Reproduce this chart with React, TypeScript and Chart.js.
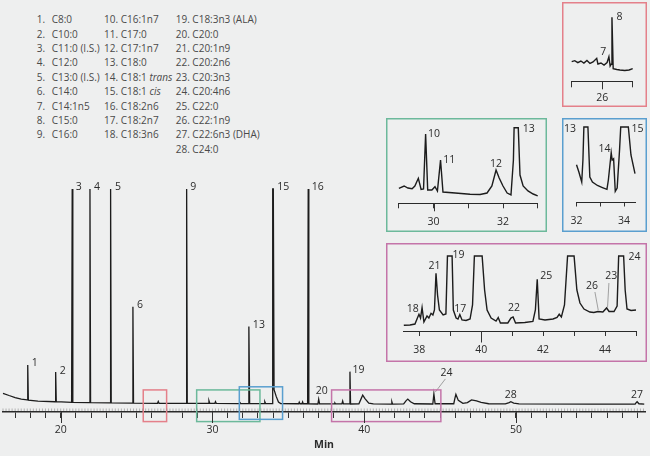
import React, { useEffect, useRef } from 'react';
import { Chart, registerables } from 'chart.js';

Chart.register(...registerables);

const FONT_FAMILY = '"Open Sans", "Noto Sans", sans-serif';
const BG = '#eeefef';
const TRACE = '#1c1c1c';
const TEXT = '#2b2b2b';

// ---------------- legend ----------------
const compoundNumbers = [1, 2, 3, 4, 5, 6, 7, 8, 9, 10, 11, 12, 13, 14, 15, 16, 17, 18, 19, 20, 21, 22, 23, 24, 25, 26, 27, 28];
const compoundNames = [
  'C8:0', 'C10:0', 'C11:0 (I.S.)', 'C12:0', 'C13:0 (I.S.)', 'C14:0', 'C14:1n5', 'C15:0', 'C16:0',
  'C16:1n7', 'C17:0', 'C17:1n7', 'C18:0', 'C18:1 trans', 'C18:1 cis', 'C18:2n6', 'C18:2n7', 'C18:3n6',
  'C18:3n3 (ALA)', 'C20:0', 'C20:1n9', 'C20:2n6', 'C20:3n3', 'C20:4n6', 'C22:0', 'C22:1n9', 'C22:6n3 (DHA)', 'C24:0',
];
const italicWords = ['trans', 'cis'];

// ---------------- main chromatogram ----------------
const mainTime = [
  16.2, 16.6, 17.0, 17.4, 17.79, 17.83, 17.87, 18.5, 19.63, 19.67, 19.71, 20.72, 20.76, 20.80,
  21.89, 21.93, 21.97, 23.25, 23.29, 23.33, 24.72, 24.76, 24.80, 26.38, 26.43, 26.48, 28.26, 28.30,
  28.34, 29.72, 29.77, 29.82, 30.16, 30.20, 30.25, 31.75, 31.80, 31.86, 32.36, 32.40, 32.45, 33.40,
  33.45, 33.50, 33.93, 33.97, 34.01, 34.06, 34.20, 34.35, 34.50, 35.68, 35.72, 35.77, 35.90, 35.94,
  35.98, 36.27, 36.31, 36.35, 36.95, 37.00, 37.06, 38.03, 38.07, 38.11, 38.53, 38.58, 38.63, 39.02,
  39.06, 39.10, 39.65, 39.80, 39.90, 40.05, 40.30, 40.60, 41.77, 41.82, 41.87, 42.60, 42.75, 42.87,
  43.05, 43.30, 44.52, 44.59, 44.67, 45.90, 45.97, 46.04, 46.20, 46.50, 46.80, 47.07, 47.40, 47.70,
  48.20, 49.30, 49.55, 49.66, 49.85, 50.20, 55.00, 57.85, 57.93, 57.98, 58.10, 58.45,
];
const mainSignal = [
  8.4, 7.4, 6.5, 5.8, 5.4, 21.1, 5.3, 4.9, 4.6, 17.9, 4.6, 4.3, 100, 4.3,
  4.2, 100, 4.2, 4.1, 100, 4.1, 4.0, 47.2, 4.0, 3.9, 4.7, 3.9, 3.9, 100,
  3.9, 3.9, 5.0, 3.9, 3.9, 4.6, 3.9, 3.8, 4.3, 3.8, 3.8, 38.3, 3.9, 3.8,
  4.6, 3.8, 3.8, 100, 100, 10.0, 7.0, 4.5, 3.8, 3.7, 4.4, 3.7, 3.7, 4.5,
  3.7, 3.7, 100, 3.7, 3.6, 5.7, 3.6, 3.6, 4.0, 3.6, 3.6, 4.9, 3.6, 3.6,
  18.1, 3.6, 3.7, 6.0, 7.6, 6.0, 4.0, 3.6, 3.5, 4.6, 3.5, 3.6, 5.0, 5.8,
  4.6, 3.7, 3.6, 8.1, 3.7, 3.7, 6.0, 7.9, 5.2, 3.9, 4.2, 5.4, 5.0, 4.3,
  3.7, 3.6, 4.2, 4.6, 4.0, 3.6, 3.5, 3.5, 4.3, 4.6, 3.7, 3.5,
];
const mainTicks = [17, 18, 19, 20, 21, 22, 23, 24, 25, 26, 27, 28, 29, 30, 31, 32, 33, 34, 35, 36, 37, 38, 39, 40, 41, 42, 43, 44, 45, 46, 47, 48, 49, 50, 51, 52, 53, 54, 55, 56, 57, 58];
const mainTickLabels = [20, 30, 40, 50];
const mainPeakText = ['1', '2', '3', '4', '5', '6', '9', '13', '15', '16', '20', '19', '24', '28', '27'];
const mainPeakTime = [17.83, 19.67, 20.76, 21.93, 23.29, 24.76, 28.30, 32.40, 34.01, 36.31, 37.0, 39.06, 44.59, 49.66, 57.98];
const mainPeakSignal = [21.1, 17.9, 100, 100, 100, 47.2, 100, 38.3, 100, 100, 5.7, 18.1, 8.1, 4.6, 4.6];
// zoom windows marked on the main trace
const zoomStart = [25.44, 28.96, 31.77, 37.85];
const zoomEnd = [26.98, 33.13, 34.62, 45.05];
const zoomLow = [-4.3, -4.3, -3.3, -4.3];
const zoomHigh = [9.9, 9.9, 11.3, 9.9];

// ---------------- inset: 25.5 - 26.5 min ----------------
const redTime = [25.5, 25.55, 25.6, 25.65, 25.7, 25.75, 25.8, 25.85, 25.91, 25.93, 25.98, 26.03, 26.08, 26.11, 26.13, 26.145, 26.16, 26.18, 26.24, 26.29, 26.37, 26.44, 26.5];
const redSignal = [31.1, 32.6, 29.5, 32.1, 29.0, 32.9, 28.3, 30.6, 36.3, 27.5, 29.0, 25.9, 29.8, 38.8, 24.4, 27.0, 100, 20.2, 18.9, 18.2, 17.4, 18.2, 20.2];
const redTicks = [25.5, 26, 26.5];
const redTickLabels = [26];
const redPeakText = ['7', '8'];
const redPeakTime = [26.11, 26.16];
const redPeakSignal = [38.8, 100];

// ---------------- inset: 29 - 33 min ----------------
const greenTime = [29.0, 29.15, 29.26, 29.38, 29.46, 29.56, 29.64, 29.71, 29.77, 29.83, 29.95, 30.04, 30.11, 30.20, 30.27, 30.62, 31.05, 31.34, 31.54, 31.68, 31.80, 31.89, 32.0, 32.12, 32.23, 32.30, 32.32, 32.44, 32.49, 32.58, 32.72, 32.87, 33.0];
const greenSignal = [19.8, 22.9, 20.2, 19.3, 22.9, 33.1, 18.3, 18.9, 91.7, 17.6, 17.6, 22.0, 16.3, 57.3, 14.9, 13.6, 11.9, 11.6, 13.6, 22.9, 44.0, 33.5, 22.9, 13.6, 11.0, 57.3, 100, 100, 37.4, 22.9, 16.3, 12.3, 9.7];
const greenTicks = [29, 30, 31, 32, 33];
const greenTickLabels = [30, 32];
const greenPeakText = ['10', '11', '12', '13'];
const greenPeakTime = [29.77, 30.20, 31.80, 32.44];
const greenPeakSignal = [91.7, 57.3, 44.0, 100];

// ---------------- inset: 32 - 34.5 min ----------------
const blueTime = [32.0, 32.10, 32.22, 32.27, 32.31, 32.48, 32.56, 32.67, 32.88, 33.09, 33.28, 33.34, 33.46, 33.50, 33.56, 33.63, 33.71, 33.81, 33.86, 34.18, 34.29, 34.46, 34.53, 34.58];
const blueSignal = [49.7, 40.0, 26.7, 56.0, 100, 100, 33.3, 26.7, 22.0, 19.3, 16.9, 29.3, 65.7, 56.0, 57.7, 14.3, 18.7, 69.3, 100, 100, 62.7, 37.7, 48.9, 36.0];
const blueTicks = [32, 33, 34];
const blueTickLabels = [32, 34];
const blueAxisEnd = 34.46;
const bluePeakText = ['13', '14', '15'];
const bluePeakTime = [32.31, 33.46, 34.18];
const bluePeakSignal = [100, 65.7, 100];

// ---------------- inset: 37.5 - 45 min ----------------
const pinkTime = [
  37.5, 37.70, 37.86, 37.94, 37.99, 38.04, 38.09, 38.15, 38.25, 38.31, 38.38, 38.44, 38.49, 38.54, 38.59,
  38.65, 38.77, 38.86, 38.91, 39.06, 39.10, 39.19, 39.25, 39.31, 39.38, 39.51, 39.64, 39.72, 39.78, 40.03,
  40.11, 40.19, 40.32, 40.48, 40.55, 40.62, 40.86, 40.96, 41.03, 41.11, 41.41, 41.67, 41.75, 41.81, 41.87,
  42.06, 42.32, 42.45, 42.52, 42.59, 42.69, 42.79, 43.0, 43.09, 43.19, 43.32, 43.51, 43.64, 43.77, 43.93,
  44.05, 44.13, 44.29, 44.39, 44.44, 44.60, 44.65, 44.71, 44.84, 45.0,
];
const pinkSignal = [
  7.6, 8.0, 9.3, 17.3, 22.3, 17.3, 31.1, 12.0, 20.0, 17.3, 23.6, 21.3, 28.0, 76.9, 48.0,
  28.0, 21.3, 22.7, 100, 100, 28.0, 17.3, 16.0, 22.0, 14.7, 14.0, 16.0, 34.7, 100, 100,
  54.7, 28.0, 17.3, 13.3, 18.0, 10.7, 10.7, 17.3, 18.7, 10.7, 11.3, 12.7, 28.0, 68.9, 16.0,
  14.7, 16.0, 18.0, 22.3, 18.7, 34.7, 100, 100, 54.7, 37.3, 29.3, 25.3, 24.7, 26.0, 25.3,
  30.7, 26.0, 26.0, 33.3, 100, 100, 54.7, 29.3, 27.3, 28.0,
];
const pinkTicks = [38, 39, 40, 41, 42, 43, 44, 45];
const pinkTickLabels = [38, 40, 42, 44];
const pinkAxisStart = 37.5;
const pinkPeakText = ['18', '21', '19', '17', '22', '25', '26', '23', '24'];
const pinkPeakTime = [38.09, 38.54, 39.06, 39.31, 41.03, 41.81, 43.78, 44.08, 44.60];
const pinkPeakSignal = [31.1, 76.9, 100, 22.0, 18.7, 68.9, 26.0, 30.0, 100];

// ---------------- styling / placement (no data) ----------------
type Place = { dx: number; dy: number; align: CanvasTextAlign; leader?: number[] };
const R = (dx: number, dy = -1.5): Place => ({ dx, dy, align: 'left' });
const C = (dx: number, dy: number): Place => ({ dx, dy, align: 'center' });

const mainPlace: Record<string, Place> = {
  '1': R(4), '2': R(4), '3': R(3.5), '4': R(4), '5': R(4.5), '6': R(4), '9': R(3.5), '13': R(4),
  '15': R(4), '16': R(3.5), '19': R(2.5), '20': C(3, -8.5), '28': C(0, -6.5), '27': C(0, -6.5),
  '24': { dx: 12.7, dy: -20.7, align: 'center', leader: [1.5, -2, 11.5, -15] },
};
const redPlace: Record<string, Place> = { '7': C(-5.7, -4.4), '8': R(4.5, 0) };
const greenPlace: Record<string, Place> = { '10': R(2.5, 0), '11': R(2.7, 0), '12': C(0, -6.5), '13': R(4.5, 1.3) };
const bluePlace: Record<string, Place> = {
  '13': { dx: -7.8, dy: 2.3, align: 'right' }, '14': C(-6.7, -3.5), '15': R(3.2, 1.7),
};
const pinkPlace: Record<string, Place> = {
  '18': C(-9.3, 1), '21': C(-1.5, -7.3), '19': C(6.3, -0.7), '17': C(0.5, -5.8), '22': C(0.8, -9.3),
  '25': C(9, -3), '24': C(10.8, 0.7),
  '26': { dx: -6.3, dy: -25.2, align: 'center', leader: [0, -1.5, -3.3, -19.5] },
  '23': { dx: 3.7, dy: -32.2, align: 'center', leader: [0, -1, 1.4, -25.5] },
};
const zoomColors = ['#e4808a', '#6cb99b', '#5a9fcf', '#c474a9'];

type Look = {
  left: number; top: number; width: number; height: number;
  padL: number; padR: number; padT: number; axisHeight: number;
  tickLength: number; majorTicks: number[]; majorLength: number; labelPad: number;
  axisWidth: number; lineWidth: number; frame?: string;
};

const mainLook: Look = {
  left: 0, top: 0, width: 650, height: 456, padL: 3, padR: 5, padT: 189, axisHeight: 44,
  tickLength: 6, majorTicks: [20, 30, 40, 50], majorLength: 11, labelPad: 5.7, axisWidth: 1.5, lineWidth: 1.3,
};
const redLook: Look = {
  left: 562, top: 2, width: 85, height: 105, padL: 9.7, padR: 14.3, padT: 15.3, axisHeight: 25.3,
  tickLength: 5.6, majorTicks: [26], majorLength: 7.6, labelPad: 4.7, axisWidth: 1, lineWidth: 1.4, frame: zoomColors[0],
};
const greenLook: Look = {
  left: 386, top: 118, width: 161, height: 114, padL: 12.9, padR: 9.3, padT: 9.7, axisHeight: 28.7,
  tickLength: 5, majorTicks: [30], majorLength: 8, labelPad: 7.4, axisWidth: 1, lineWidth: 1.4, frame: zoomColors[1],
};
const blueLook: Look = {
  left: 562, top: 118, width: 85, height: 114, padL: 13.7, padR: 12, padT: 9, axisHeight: 30,
  tickLength: 4.5, majorTicks: [], majorLength: 0, labelPad: 8.5, axisWidth: 1, lineWidth: 1.4, frame: zoomColors[2],
};
const pinkLook: Look = {
  left: 386, top: 243, width: 261, height: 119, padL: 17.8, padR: 11, padT: 13, axisHeight: 31,
  tickLength: 5, majorTicks: [40], majorLength: 11.5, labelPad: 8, axisWidth: 1, lineWidth: 1.4, frame: zoomColors[3],
};

type Trace = {
  time: number[]; signal: number[]; xMin: number; xMax: number; ticks: number[]; tickLabels: number[];
  peakText: string[]; peakTime: number[]; peakSignal: number[]; place: Record<string, Place>;
};

function labelsPlugin(tr: Trace) {
  return {
    id: 'peakLabels',
    afterDatasetsDraw(chart: any) {
      const { ctx } = chart;
      const xs = chart.scales.x;
      const ys = chart.scales.y;
      ctx.save();
      ctx.font = `10.5px ${FONT_FAMILY}`;
      ctx.fillStyle = TEXT;
      ctx.textBaseline = 'middle';
      tr.peakText.forEach((text, i) => {
        const p = tr.place[text];
        const px = xs.getPixelForValue(tr.peakTime[i]);
        const py = ys.getPixelForValue(tr.peakSignal[i]);
        if (p.leader) {
          ctx.beginPath();
          ctx.strokeStyle = '#8c8c8c';
          ctx.lineWidth = 0.8;
          ctx.moveTo(px + p.leader[0], py + p.leader[1]);
          ctx.lineTo(px + p.leader[2], py + p.leader[3]);
          ctx.stroke();
        }
        ctx.textAlign = p.align;
        ctx.fillText(text, px + p.dx, py + p.dy);
      });
      ctx.restore();
    },
  };
}

function axisDecorPlugin(look: Look, ruler: boolean) {
  return {
    id: 'axisDecor',
    afterDraw(chart: any) {
      const { ctx, chartArea } = chart;
      const xs = chart.scales.x;
      const y0 = chartArea.bottom;
      ctx.save();
      ctx.strokeStyle = '#333';
      ctx.lineWidth = 1;
      look.majorTicks.forEach((v) => {
        const x = Math.round(xs.getPixelForValue(v)) + 0.5;
        ctx.beginPath();
        ctx.moveTo(x, y0);
        ctx.lineTo(x, y0 + look.majorLength);
        ctx.stroke();
      });
      if (ruler) {
        ctx.strokeStyle = '#8a8a8a';
        ctx.lineWidth = 0.6;
        for (let t = xs.min; t <= xs.max; t += 0.2) {
          const x = xs.getPixelForValue(t);
          ctx.beginPath();
          ctx.moveTo(x, y0 - 1);
          ctx.lineTo(x, y0 - 3.5);
          ctx.stroke();
        }
      }
      if (look.frame) {
        ctx.strokeStyle = look.frame;
        ctx.lineWidth = 1.5;
        ctx.strokeRect(0.75, 0.75, chart.width - 1.5, chart.height - 1.5);
      }
      ctx.restore();
    },
  };
}

const zoomBoxPlugin = {
  id: 'zoomBoxes',
  afterDatasetsDraw(chart: any) {
    const { ctx } = chart;
    const xs = chart.scales.x;
    const ys = chart.scales.y;
    ctx.save();
    ctx.lineWidth = 1.5;
    zoomStart.forEach((t0, i) => {
      const x0 = xs.getPixelForValue(t0);
      const x1 = xs.getPixelForValue(zoomEnd[i]);
      const yTop = ys.getPixelForValue(zoomHigh[i]);
      const yBot = ys.getPixelForValue(zoomLow[i]);
      ctx.strokeStyle = zoomColors[i];
      ctx.strokeRect(x0, yTop, x1 - x0, yBot - yTop);
    });
    ctx.restore();
  },
};

function buildChart(canvas: HTMLCanvasElement, tr: Trace, look: Look, isMain: boolean) {
  const tickFont = { family: FONT_FAMILY, size: 10.5 };
  const plugins: any[] = [labelsPlugin(tr), axisDecorPlugin(look, isMain)];
  if (isMain) plugins.push(zoomBoxPlugin);
  return new Chart(canvas, {
    type: 'line',
    data: {
      datasets: [
        {
          data: tr.time.map((t, i) => ({ x: t, y: tr.signal[i] })),
          borderColor: TRACE,
          borderWidth: look.lineWidth,
          pointRadius: 0,
          tension: 0,
          fill: false,
          clip: false as any,
        },
      ],
    },
    options: {
      animation: false,
      responsive: false,
      maintainAspectRatio: false,
      layout: { padding: { left: look.padL, right: look.padR, top: look.padT, bottom: 0 } },
      plugins: { legend: { display: false }, tooltip: { enabled: false }, title: { display: false } },
      scales: {
        x: {
          type: 'linear',
          min: tr.xMin,
          max: tr.xMax,
          afterBuildTicks: (axis: any) => {
            axis.ticks = tr.ticks.map((v) => ({ value: v }));
          },
          afterFit: (axis: any) => {
            axis.height = look.axisHeight;
          },
          ticks: {
            autoSkip: false,
            maxRotation: 0,
            minRotation: 0,
            padding: look.labelPad,
            color: TEXT,
            font: tickFont,
            callback: (v: any) => (tr.tickLabels.includes(Number(v)) ? String(v) : ''),
          },
          grid: { display: true, drawOnChartArea: false, drawTicks: true, tickLength: look.tickLength, tickColor: '#333', tickWidth: 1 },
          border: { display: true, color: '#2a2a2a', width: look.axisWidth },
          title: isMain
            ? { display: true, text: 'Min', color: TEXT, font: { family: FONT_FAMILY, size: 10.5, weight: 'bold' }, padding: { top: 0, bottom: 4.4 } }
            : { display: false },
        },
        y: { display: false, min: 0, max: 100 },
      },
    } as any,
    plugins,
  });
}

const mainTrace: Trace = {
  time: mainTime, signal: mainSignal, xMin: 16.2, xMax: 58.5, ticks: mainTicks, tickLabels: mainTickLabels,
  peakText: mainPeakText, peakTime: mainPeakTime, peakSignal: mainPeakSignal, place: mainPlace,
};
const redTrace: Trace = {
  time: redTime, signal: redSignal, xMin: redTicks[0], xMax: redTicks[redTicks.length - 1], ticks: redTicks, tickLabels: redTickLabels,
  peakText: redPeakText, peakTime: redPeakTime, peakSignal: redPeakSignal, place: redPlace,
};
const greenTrace: Trace = {
  time: greenTime, signal: greenSignal, xMin: greenTicks[0], xMax: greenTicks[greenTicks.length - 1], ticks: greenTicks, tickLabels: greenTickLabels,
  peakText: greenPeakText, peakTime: greenPeakTime, peakSignal: greenPeakSignal, place: greenPlace,
};
const blueTrace: Trace = {
  time: blueTime, signal: blueSignal, xMin: blueTicks[0], xMax: blueAxisEnd, ticks: blueTicks, tickLabels: blueTickLabels,
  peakText: bluePeakText, peakTime: bluePeakTime, peakSignal: bluePeakSignal, place: bluePlace,
};
const pinkTrace: Trace = {
  time: pinkTime, signal: pinkSignal, xMin: pinkAxisStart, xMax: pinkTicks[pinkTicks.length - 1], ticks: pinkTicks, tickLabels: pinkTickLabels,
  peakText: pinkPeakText, peakTime: pinkPeakTime, peakSignal: pinkPeakSignal, place: pinkPlace,
};

const charts: { tr: Trace; look: Look; main: boolean }[] = [
  { tr: mainTrace, look: mainLook, main: true },
  { tr: redTrace, look: redLook, main: false },
  { tr: greenTrace, look: greenLook, main: false },
  { tr: blueTrace, look: blueLook, main: false },
  { tr: pinkTrace, look: pinkLook, main: false },
];

function NameText({ name }: { name: string }) {
  const parts = name.split(' ');
  return (
    <>
      {parts.map((p, i) => (
        <React.Fragment key={i}>
          {i > 0 ? ' ' : ''}
          {italicWords.includes(p) ? <i>{p}</i> : p}
        </React.Fragment>
      ))}
    </>
  );
}

const legendCols = [
  { from: 0, to: 9, left: 36.7, numWidth: 15 },
  { from: 9, to: 18, left: 104, numWidth: 0 },
  { from: 18, to: 28, left: 175.7, numWidth: 0 },
];

export default function App() {
  const refs = useRef<(HTMLCanvasElement | null)[]>([]);

  useEffect(() => {
    document.body.style.margin = '0';
    document.body.style.background = BG;
    const made = charts.map((c, i) => buildChart(refs.current[i] as HTMLCanvasElement, c.tr, c.look, c.main));
    return () => made.forEach((ch) => ch.destroy());
  }, []);

  return (
    <div
      style={{
        position: 'fixed', left: 0, top: 0, width: 650, height: 456, background: BG, overflow: 'hidden',
        fontFamily: FONT_FAMILY,
      }}
    >
      {legendCols.map((col, ci) => (
        <div
          key={ci}
          style={{ position: 'absolute', left: col.left, top: 12.1, fontSize: 10, lineHeight: '14.4px', color: '#4a4a4a', whiteSpace: 'nowrap' }}
        >
          {compoundNames.slice(col.from, col.to).map((name, i) => {
            const n = compoundNumbers[col.from + i];
            return (
              <div key={n}>
                {col.numWidth ? (
                  <span style={{ display: 'inline-block', width: col.numWidth }}>{n}.</span>
                ) : (
                  <span>{n}. </span>
                )}
                <NameText name={name} />
              </div>
            );
          })}
        </div>
      ))}
      {charts.map((c, i) => (
        <canvas
          key={i}
          ref={(el) => {
            refs.current[i] = el;
          }}
          width={c.look.width}
          height={c.look.height}
          style={{ position: 'absolute', left: c.look.left, top: c.look.top, width: c.look.width, height: c.look.height }}
        />
      ))}
    </div>
  );
}
